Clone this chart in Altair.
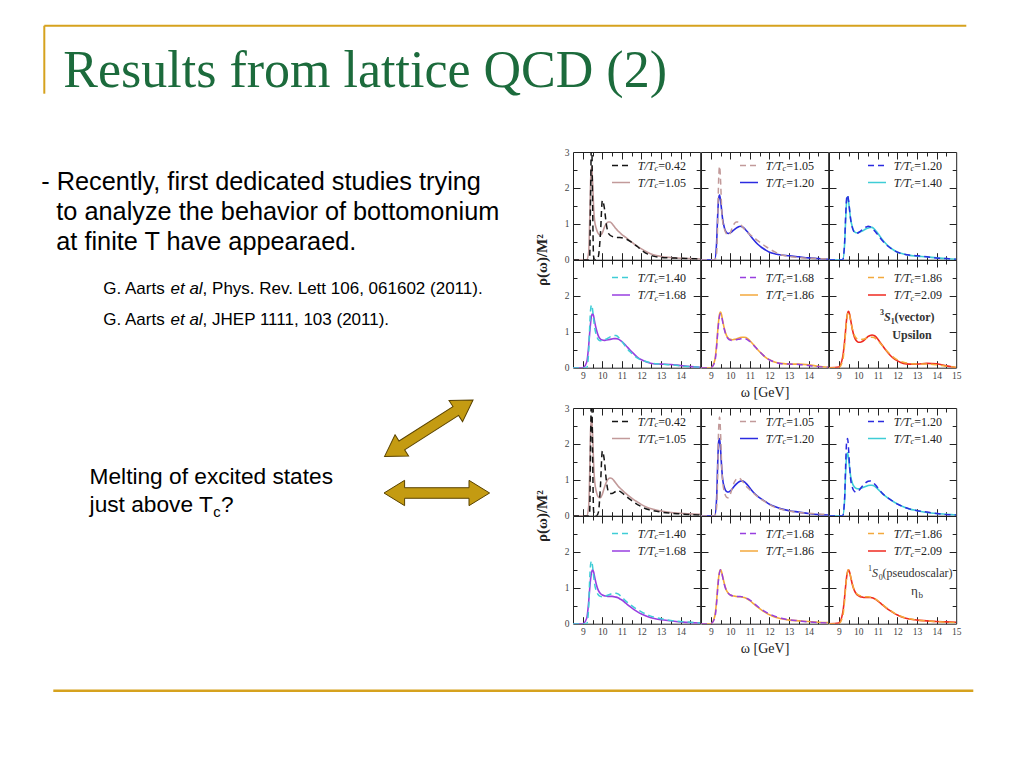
import altair as alt
import pandas as pd

# ---------------- data ----------------
omega = [8.5, 9.0, 9.2, 9.3, 9.35, 9.4, 9.45, 9.5, 9.55, 9.6, 9.7, 9.8, 9.9, 10.0, 10.1, 10.2,
         10.3, 10.4, 10.5, 10.6, 10.7, 10.8, 10.9, 11.0, 11.2, 11.4, 11.6, 11.8, 12.0, 12.3,
         12.6, 13.0, 13.5, 14.0, 14.5, 15.0]

# 3S1 (vector, Upsilon)
ups_042 = [0, 0, 0, 0, 0.05, 1.8, 3.6, 1.6, 0.1, 0, 0, 0.1, 0.7, 1.65, 1.45, 1.0, 0.75, 0.68, 0.65, 0.63,
           0.62, 0.62, 0.62, 0.61, 0.58, 0.52, 0.44, 0.36, 0.27, 0.16, 0.1, 0.06, 0.05, 0.04, 0.03, 0.02]
ups_105 = [0, 0, 0, 0.2, 1.0, 2.2, 2.6, 2.2, 1.5, 1.1, 0.85, 0.72, 0.68, 0.75, 0.9, 1.0, 1.05, 1.05, 1.0, 0.93,
           0.86, 0.8, 0.75, 0.7, 0.62, 0.53, 0.45, 0.37, 0.3, 0.21, 0.14, 0.09, 0.06, 0.04, 0.03, 0.02]
ups_120 = [0, 0, 0, 0.5, 1.2, 1.7, 1.8, 1.65, 1.4, 1.15, 0.88, 0.76, 0.73, 0.75, 0.79, 0.84, 0.88, 0.91, 0.93, 0.92,
           0.88, 0.82, 0.76, 0.69, 0.55, 0.43, 0.34, 0.27, 0.21, 0.16, 0.13, 0.11, 0.08, 0.05, 0.03, 0.01]
ups_140 = [0, 0, 0, 0.45, 1.1, 1.62, 1.75, 1.62, 1.38, 1.15, 0.9, 0.78, 0.75, 0.76, 0.78, 0.8, 0.83, 0.86, 0.88, 0.9,
           0.9, 0.86, 0.8, 0.73, 0.58, 0.45, 0.35, 0.27, 0.21, 0.16, 0.12, 0.1, 0.08, 0.05, 0.03, 0.01]
ups_168 = [0, 0, 0.15, 0.6, 0.95, 1.25, 1.45, 1.5, 1.45, 1.3, 1.05, 0.88, 0.8, 0.77, 0.76, 0.77, 0.78, 0.79, 0.8, 0.81,
           0.81, 0.8, 0.77, 0.73, 0.62, 0.5, 0.39, 0.29, 0.22, 0.15, 0.11, 0.1, 0.09, 0.06, 0.03, 0.01]
ups_186 = [0, 0, 0.2, 0.65, 1.0, 1.3, 1.5, 1.55, 1.48, 1.33, 1.07, 0.9, 0.82, 0.79, 0.78, 0.79, 0.8, 0.82, 0.84, 0.85,
           0.85, 0.84, 0.8, 0.75, 0.63, 0.5, 0.39, 0.29, 0.22, 0.15, 0.12, 0.1, 0.1, 0.08, 0.04, 0.01]
ups_209 = [0, 0.02, 0.3, 0.75, 1.05, 1.35, 1.52, 1.57, 1.5, 1.35, 1.05, 0.85, 0.75, 0.71, 0.71, 0.73, 0.77, 0.82, 0.87, 0.9,
           0.91, 0.9, 0.86, 0.79, 0.64, 0.49, 0.36, 0.26, 0.19, 0.12, 0.1, 0.1, 0.12, 0.11, 0.05, 0.0]

# 1S0 (pseudoscalar, eta_b)
eta_042 = [0, 0, 0, 0, 0.05, 2.0, 3.8, 1.8, 0.15, 0, 0, 0.1, 0.8, 1.8, 1.55, 1.0, 0.68, 0.62, 0.62, 0.65,
           0.68, 0.7, 0.68, 0.64, 0.55, 0.46, 0.38, 0.31, 0.25, 0.18, 0.14, 0.1, 0.07, 0.05, 0.03, 0.02]
eta_105 = [0, 0, 0, 0.25, 1.1, 2.4, 2.75, 2.3, 1.5, 1.0, 0.65, 0.52, 0.5, 0.6, 0.78, 0.93, 1.02, 1.05, 1.03, 0.97,
           0.9, 0.83, 0.77, 0.72, 0.62, 0.53, 0.45, 0.38, 0.31, 0.23, 0.18, 0.13, 0.09, 0.07, 0.05, 0.04]
eta_120 = [0, 0, 0, 0.5, 1.4, 2.05, 2.15, 1.85, 1.4, 1.05, 0.78, 0.68, 0.66, 0.69, 0.75, 0.82, 0.88, 0.93, 0.96, 0.97,
           0.95, 0.9, 0.84, 0.77, 0.64, 0.54, 0.46, 0.39, 0.32, 0.25, 0.19, 0.14, 0.1, 0.06, 0.03, 0.02]
eta_140 = [0, 0, 0, 0.45, 1.2, 1.65, 1.75, 1.6, 1.35, 1.12, 0.9, 0.8, 0.76, 0.75, 0.76, 0.78, 0.8, 0.82, 0.84, 0.85,
           0.85, 0.83, 0.79, 0.74, 0.63, 0.54, 0.46, 0.39, 0.33, 0.25, 0.19, 0.14, 0.09, 0.06, 0.04, 0.02]
eta_168 = [0, 0, 0.15, 0.6, 0.95, 1.25, 1.43, 1.5, 1.45, 1.32, 1.08, 0.92, 0.84, 0.8, 0.78, 0.77, 0.76, 0.76, 0.76, 0.75,
           0.74, 0.72, 0.69, 0.66, 0.57, 0.48, 0.4, 0.33, 0.27, 0.2, 0.15, 0.11, 0.08, 0.05, 0.03, 0.02]
eta_186 = [0, 0, 0.2, 0.65, 1.0, 1.28, 1.45, 1.5, 1.45, 1.33, 1.1, 0.93, 0.85, 0.8, 0.78, 0.77, 0.76, 0.75, 0.75, 0.74,
           0.73, 0.71, 0.68, 0.64, 0.55, 0.46, 0.38, 0.31, 0.25, 0.18, 0.14, 0.1, 0.08, 0.06, 0.04, 0.03]
eta_209 = [0, 0.02, 0.3, 0.75, 1.05, 1.3, 1.45, 1.5, 1.44, 1.32, 1.08, 0.92, 0.83, 0.78, 0.75, 0.74, 0.73, 0.73, 0.73, 0.73,
           0.72, 0.7, 0.67, 0.63, 0.54, 0.45, 0.37, 0.3, 0.24, 0.17, 0.13, 0.1, 0.08, 0.06, 0.05, 0.04]

temps = ["0.42", "1.05", "1.20", "1.40", "1.68", "1.86", "2.09"]
line_colors = ["#151515", "#c29a9a", "#2b2be0", "#3fcdd6", "#983fe0", "#f3a93c", "#ef2a20"]
vector_curves = [ups_042, ups_105, ups_120, ups_140, ups_168, ups_186, ups_209]
pseudo_curves = [eta_042, eta_105, eta_120, eta_140, eta_168, eta_186, eta_209]
fig_curves = [vector_curves, pseudo_curves]

title_text = "Results from lattice QCD (2)"
bullet_text = ["- Recently, first dedicated studies trying",
               "to analyze the behavior of bottomonium",
               "at finite T have appearaed."]
ref_author = "G. Aarts "
ref_etal = "et al"
ref_tails = [", Phys. Rev. Lett 106, 061602 (2011).", ", JHEP 1111, 103 (2011)."]
melt_text = ["Melting of excited states", "just above T"]
melt_sub = "c"
melt_end = "?"
channel_sup = ["3", "1"]
channel_sub = ["1", "0"]
channel_name = ["(vector)", "(pseudoscalar)"]
state_name = ["Upsilon", "\u03b7"]
state_sub = ["", "b"]
legend_pre = "T/T"
legend_sub = "c"
x_title = "\u03c9 [GeV]"
y_title = "\u03c1(\u03c9)/M\u00b2"
x_ticks_major = [9, 10, 11, 12, 13, 14]
x_ticks_minor = [9.5, 10.5, 11.5, 12.5, 13.5, 14.5]
y_ticks_major = [1, 2]
y_ticks_minor = [0.5, 1.5, 2.5]
x_labels_inner = [9, 10, 11, 12, 13, 14]
x_labels_last = [9, 10, 11, 12, 13, 14, 15]
y_labels_top = [0, 1, 2, 3]
y_labels_bottom = [0, 1, 2]

# ---------------- layout constants ----------------
OX, OY = 571.7, 151.3          # page position of the first panel
PW, PH, GAP = 127.2, 107.7, 40.0
SERIF = "Liberation Serif"
SANS = "Liberation Sans"
GOLD = "#d6a21e"
GREEN = "#1c6b3c"
ONE = pd.DataFrame({"k": [0]})
ARROW = ("M -1 0 L -0.61 -0.24 L -0.61 -0.1 L 0.61 -0.1 L 0.61 -0.24 L 1 0 "
         "L 0.61 0.24 L 0.61 0.1 L -0.61 0.1 L -0.61 0.24 Z")


def text_layer(s, x, y, size, font=SANS, color="#000000", style="normal",
               weight="normal", align="left", baseline="alphabetic"):
    return alt.Chart(pd.DataFrame({"s": [s]})).mark_text(
        font=font, fontSize=size, color=color, fontStyle=style, fontWeight=weight,
        align=align, baseline=baseline
    ).encode(x=alt.value(x), y=alt.value(y), text="s:N")


def page_text(s, X, Y, size, **kw):
    return text_layer(s, X - OX, Y - OY, size, **kw)


def rule_h(x1, x2, y, color, width, dash=None):
    kw = dict(color=color, strokeWidth=width)
    if dash:
        kw["strokeDash"] = dash
    return alt.Chart(ONE).mark_rule(**kw).encode(
        x=alt.value(x1), x2=alt.value(x2), y=alt.value(y))


def rule_v(x, y1, y2, color, width):
    return alt.Chart(ONE).mark_rule(color=color, strokeWidth=width).encode(
        x=alt.value(x), y=alt.value(y1), y2=alt.value(y2))


def arrow(cx, cy, angle, size):
    return alt.Chart(ONE).mark_point(
        shape=ARROW, filled=True, fill="#c49b12", stroke="#5a4300", strokeWidth=1,
        opacity=1, size=size, angle=angle
    ).encode(x=alt.value(cx - OX), y=alt.value(cy - OY))


def decorations():
    lay = []
    # anchor of the page's top-left corner
    lay.append(alt.Chart(ONE).mark_rect(color="#ffffff").encode(
        x=alt.value(8 - OX), x2=alt.value(9 - OX), y=alt.value(8 - OY), y2=alt.value(9 - OY)))
    lay.append(rule_h(43 - OX, 965 - OX, 25 - OY, GOLD, 2))
    lay.append(rule_v(43 - OX, 25 - OY, 93 - OY, GOLD, 2))
    lay.append(rule_h(52 - OX, 972 - OX, 690 - OY, GOLD, 2.5))
    lay.append(page_text(title_text, 62, 86, 52, font=SERIF, color=GREEN))
    lay.append(page_text(bullet_text[0], 40, 189, 25.3))
    lay.append(page_text(bullet_text[1], 55, 219, 25.3))
    lay.append(page_text(bullet_text[2], 55, 249, 25.3))
    for k, yy in enumerate([293, 324]):
        lay.append(page_text(ref_author, 102, yy, 17))
        lay.append(page_text(ref_etal, 169.2, yy, 17, style="italic"))
        lay.append(page_text(ref_tails[k], 201.3, yy, 17))
    lay.append(page_text(melt_text[0], 88.3, 483.3, 22.7))
    lay.append(page_text(melt_text[1], 88.3, 511.7, 22.7))
    lay.append(page_text(melt_sub, 211.9, 516.5, 14.8))
    lay.append(page_text(melt_end, 219.6, 511.7, 22.7))
    lay.append(arrow(427.5, 427.5, 147.5, 11000))
    lay.append(arrow(435.5, 492.3, 0, 11150))
    return lay


def tick_axis(orient, vals, size):
    return alt.Axis(orient=orient, values=vals, tickSize=size, offset=-size, labels=False,
                    domain=False, grid=False, ticks=True, tickColor="#222222", tickWidth=1,
                    title=None)


def panel(fig, i, extra=None):
    r, c = divmod(i, 3)
    curves = fig_curves[fig]
    df_dash = pd.DataFrame({"omega": omega, "rho": curves[i]})
    df_solid = pd.DataFrame({"omega": omega, "rho": curves[i + 1]})
    xs = alt.Scale(domain=[8.5, 15], nice=False, zero=False)
    ys = alt.Scale(domain=[0, 3], nice=False, zero=False)

    def X(axis):
        return alt.X("omega:Q", scale=xs, axis=axis)

    def Y(axis):
        return alt.Y("rho:Q", scale=ys, axis=axis)

    layers = list(extra) if extra else []
    layers.append(alt.Chart(df_solid).mark_line(
        color=line_colors[i + 1], strokeWidth=1.6, clip=True, interpolate="monotone"
    ).encode(x=X(tick_axis("top", x_ticks_major, 7)), y=Y(tick_axis("right", y_ticks_major, 7))))
    layers.append(alt.Chart(df_dash).mark_line(
        color=line_colors[i], strokeWidth=1.5, strokeDash=[6, 4], clip=True, interpolate="monotone"
    ).encode(x=X(tick_axis("bottom", x_ticks_major, 7)), y=Y(tick_axis("left", y_ticks_major, 7))))
    layers.append(alt.Chart(df_solid).mark_line(opacity=0).encode(
        x=X(tick_axis("bottom", x_ticks_minor, 4)), y=Y(tick_axis("left", y_ticks_minor, 4))))
    layers.append(alt.Chart(df_solid).mark_line(opacity=0).encode(
        x=X(tick_axis("top", x_ticks_minor, 4)), y=Y(tick_axis("right", y_ticks_minor, 4))))

    bottom = (r == 1)
    left = (c == 0)
    if bottom or left:
        xa = None
        ya = None
        if bottom:
            xkw = dict(orient="bottom", values=(x_labels_last if c == 2 else x_labels_inner),
                       ticks=False, domain=False, grid=False, labels=True, labelPadding=2.5,
                       labelFont=SERIF, labelFontSize=9.5, labelColor="#444444",
                       labelFlush=False, labelOverlap=False, format="d", title=None)
            if c == 1:
                xkw.update(title=x_title, titleFont=SERIF, titleFontSize=14,
                           titleFontWeight="normal", titleColor="#222222",
                           titleY=25, titleBaseline="middle")
            xa = alt.Axis(**xkw)
        if left:
            ykw = dict(orient="left", values=(y_labels_bottom if bottom else y_labels_top),
                       ticks=False, domain=False, grid=False, labels=True, labelPadding=4,
                       labelFont=SERIF, labelFontSize=9.5, labelColor="#444444",
                       labelFlush=False, labelOverlap=False, format="d", title=None)
            if not bottom:
                ykw.update(title=y_title, titleFont=SERIF, titleFontSize=15,
                           titleFontWeight="bold", titleColor="#222222",
                           titleX=-31.7, titleY=PH, titleAngle=270,
                           titleBaseline="middle", titleAlign="center")
            ya = alt.Axis(**ykw)
        layers.append(alt.Chart(df_solid).mark_line(opacity=0).encode(x=X(xa), y=Y(ya)))

    # legend
    rows_y = [17.5, 35.0] if bottom else [13.5, 30.5]
    for k, (ci, dashed) in enumerate([(i, True), (i + 1, False)]):
        yy = rows_y[k]
        layers.append(rule_h(39, 57, yy, line_colors[ci], 1.5, dash=[6, 4] if dashed else None))
        layers.append(text_layer(legend_pre, 81.5, yy, 12, font=SERIF, color="#222222",
                                 style="italic", align="right", baseline="middle"))
        layers.append(text_layer(legend_sub, 81.5, yy + 3.5, 8, font=SERIF, color="#222222",
                                 style="italic", baseline="middle"))
        layers.append(text_layer("=" + temps[ci], 85.3, yy, 12, font=SERIF, color="#222222",
                                 baseline="middle"))

    if i == 5:
        if fig == 0:
            x0, wt = 51, "bold"
        else:
            x0, wt = 39, "normal"
        layers.append(text_layer(channel_sup[fig], x0, 55, 8, font=SERIF, color="#333333", weight=wt))
        layers.append(text_layer("S", x0 + 4, 61, 12, font=SERIF, color="#333333",
                                 style="italic", weight=wt))
        layers.append(text_layer(channel_sub[fig], x0 + 10.7, 64, 8, font=SERIF, color="#333333", weight=wt))
        layers.append(text_layer(channel_name[fig], x0 + 14.5, 61, 12, font=SERIF,
                                 color="#333333", weight=wt))
        if fig == 0:
            layers.append(text_layer(state_name[0], 83, 79, 12, font=SERIF, color="#333333",
                                     weight="bold", align="center"))
        else:
            layers.append(text_layer(state_name[1], 82, 79, 13, font=SERIF, color="#333333"))
            layers.append(text_layer(state_sub[1], 89.5, 82, 9, font=SERIF, color="#333333"))

    return alt.layer(*layers).resolve_axis(x="independent", y="independent").properties(
        width=PW, height=PH)


def spacer():
    return alt.Chart(ONE).mark_point(opacity=0).encode(
        x=alt.value(0), y=alt.value(0)
    ).properties(width=PW, height=GAP, view=alt.ViewBackground(strokeOpacity=0))


cells = []
for i in range(6):
    cells.append(panel(0, i, extra=decorations() if i == 0 else None))
cells += [spacer(), spacer(), spacer()]
for i in range(6):
    cells.append(panel(1, i))

chart = alt.concat(*cells, columns=3, spacing=0, bounds="flush", align="each").properties(
    padding=0, background="#ffffff"
).configure_view(stroke="#222222", strokeWidth=1)

chart.save("out.html", embed_options={"renderer": "svg", "actions": False})
